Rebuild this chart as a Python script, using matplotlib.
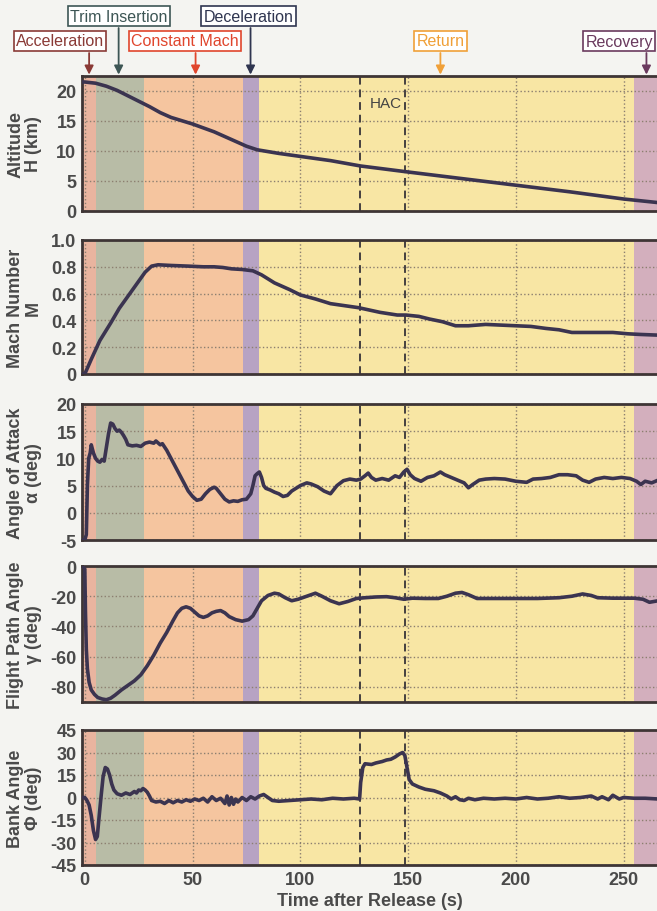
import matplotlib
matplotlib.use("Agg")
import matplotlib.pyplot as plt

plt.rcParams['font.family'] = ['Liberation Sans', 'DejaVu Sans']

# ---- data ----
# flight phases (start, end) in s after release
PHASES = ['Acceleration', 'Trim Insertion', 'Constant Mach', 'Deceleration', 'Return', 'Recovery']
PHASE_START = [-2, 5, 27.3, 73.6, 80.6, 255]
PHASE_END = [5, 27.3, 73.6, 80.6, 255, 270]
PHASE_COLORS = ['#e9b49f', '#b8bca6', '#f5c59f', '#b7a3c3', '#f8e6a4', '#d3afbd']
PHASE_TEXT = ['#8a3a36', '#3d5655', '#e0452c', '#2f3550', '#f0a038', '#6a3a5e']
ARROW_T = [2, 15.7, 51.4, 76.9, 165, 260.6]
BOX_T = [-11.5, 15.7, 46.5, 76, 165, 248]
BOX_ROW = [1, 0, 1, 0, 1, 1]

HAC_T = [127.8, 148.8]

alt_t = [-1, 0, 5, 10, 15, 20, 25, 30, 35, 40, 50, 60, 70, 75, 80, 90, 100, 114,
         128, 150, 175, 200, 225, 250, 266]
alt = [21.5, 21.5, 21.3, 20.8, 20.1, 19.2, 18.3, 17.4, 16.4, 15.6, 14.5, 13.2, 11.6,
       10.8, 10.2, 9.6, 9.1, 8.4, 7.5, 6.5, 5.4, 4.3, 3.2, 2.0, 1.4]

mach_t = [-1, 0, 3, 7, 12, 16, 20, 24, 28, 31, 34, 40, 48, 55, 60, 64, 68, 73, 78,
          82, 88, 95, 100, 107, 114, 127, 137, 145, 149, 155, 160, 166, 172, 178,
          186, 193, 200, 207, 214, 220, 226, 235, 245, 252, 258, 266]
mach = [0, 0, 0.11, 0.25, 0.38, 0.49, 0.58, 0.67, 0.76, 0.805, 0.815, 0.81, 0.805,
        0.80, 0.80, 0.795, 0.785, 0.78, 0.77, 0.74, 0.68, 0.63, 0.59, 0.56, 0.525,
        0.495, 0.46, 0.44, 0.44, 0.43, 0.41, 0.39, 0.36, 0.36, 0.37, 0.365, 0.36,
        0.355, 0.34, 0.33, 0.31, 0.31, 0.31, 0.30, 0.295, 0.29]

alpha_t = [-1, 0, 0.7, 1.2, 1.8, 2.5, 3, 4, 5, 6, 7, 8, 9, 10, 11, 12, 13, 14, 15,
           16, 17, 18, 19, 20, 22, 24, 26, 28, 30, 32, 33, 35, 36, 38, 40, 42, 44,
           46, 48, 50, 52, 54, 56, 58, 60, 61, 63, 65, 67, 69, 71, 73, 75, 77, 78,
           79, 80, 81, 82, 83, 84, 86, 88, 90, 92, 94, 96, 98, 100, 103, 105, 108,
           111, 114, 117, 120, 123, 126, 128, 130, 131.5, 133, 135, 138, 141, 144,
           146, 148, 149.5, 151, 153, 156, 159, 162, 165, 167, 170, 173, 176, 178,
           180, 183, 186, 190, 195, 200, 205, 208, 212, 216, 220, 224, 228, 231,
           234, 237, 241, 245, 249, 253, 256, 258, 260, 263, 266]
alpha = [-5, -5, -4, 5, 10, 11, 12.5, 11, 10, 9.5, 9.3, 9.8, 9.5, 12, 14.5, 16.5,
         16.3, 15.5, 15, 15.2, 14.8, 14.2, 13.5, 12.5, 12.3, 12.4, 12.2, 12.8, 13.0,
         12.8, 13.2, 12.5, 12.7, 11.5, 10, 8.5, 7, 5.5, 4, 3, 2.3, 2.5, 3.5, 4.3,
         4.7, 4.5, 3.5, 2.5, 2, 2.2, 2.1, 2.4, 2.5, 3.5, 5, 6.8, 7.2, 7.5, 6.5, 5,
         4.5, 4.2, 3.8, 3.5, 3, 3.2, 4, 4.5, 5, 5.5, 5.3, 4.8, 4, 3.5, 5, 5.9, 6.2,
         6.0, 6.2, 6.8, 7.3, 6.5, 6.0, 6.3, 6.0, 6.8, 6.5, 7.5, 8.0, 7.0, 6.3, 5.8,
         6.5, 6.8, 7.5, 7.0, 6.5, 6.0, 5.5, 4.6, 5.2, 6.0, 6.2, 6.3, 6.2, 5.8, 5.6,
         6.2, 6.3, 6.5, 7.0, 7.0, 6.8, 6.0, 5.6, 6.2, 6.5, 6.3, 6.5, 6.3, 5.8, 5.2,
         5.8, 5.5, 6.0]

gamma_t = [-1, 0, 0.3, 0.7, 1.2, 2, 3, 4.5, 6, 8, 10, 12, 14, 17, 20, 23, 26, 29,
           32, 35, 38, 41, 43, 45, 47, 49, 51, 53, 55, 57, 59, 61, 63, 65, 67, 70,
           73, 76, 78, 80, 82, 85, 88, 90, 93, 96, 99, 103, 107, 110, 114, 118, 122,
           126, 130, 135, 140, 144, 148, 152, 158, 164, 168, 172, 175, 178, 182, 190,
           200, 210, 220, 226, 231, 235, 238, 245, 255, 259, 262, 266]
gamma = [0, -2, -30, -55, -68, -77, -82, -85, -87, -88, -88.5, -87.5, -85.5, -82,
         -79, -76, -72, -66, -59, -51, -44, -36, -31, -28, -27, -28, -30.5, -33, -34,
         -33, -31, -30, -29.5, -31, -33.5, -35.5, -36.5, -35.5, -33, -28, -23, -19.5,
         -18, -18.5, -21, -23, -22, -20, -18, -20, -23, -25, -23.5, -21.5, -21, -20.5,
         -20.3, -21, -22, -21.3, -21.5, -21.5, -20, -18, -17.5, -19, -21.5, -21.5,
         -21.5, -21.5, -21, -20, -18.5, -19.5, -21, -21.3, -21.3, -22, -24, -23]

bank_t = [-1, 0, 1, 2, 3, 4, 5, 5.8, 6.5, 7.5, 8.5, 9.5, 10.5, 11.5, 12.5, 13.5, 15,
          17, 19, 21, 23, 24, 25, 26, 27, 28, 29, 30, 31, 33, 35, 37, 39, 41, 43,
          45, 47, 49, 51, 53, 55, 57, 59, 61, 63, 65, 66, 67, 68, 69, 70, 71, 73,
          75, 77, 79, 81, 83, 85, 87, 90, 95, 100, 105, 110, 115, 120, 125, 127.5,
          128, 129, 130, 133, 135, 138, 140, 142, 144, 146, 147.5, 148.5, 149.5,
          150.5, 152, 155, 158, 162, 165, 168, 170, 172, 174, 176, 178, 181, 185,
          190, 195, 200, 205, 210, 215, 220, 225, 230, 235, 238, 240, 243, 245, 248,
          250, 255, 260, 266]
bank = [0, 0, -2, -5, -12, -22, -28, -26, -15, 0, 14, 20, 19, 15, 9, 5, 2.5, 1.5, 3,
        2, 4, 3, 5, 4.5, 6, 5, 3.5, 1, -2, -3, -2.5, -4, -2, -3.5, -2, -3, -1.5,
        -2.5, -1, -2, -0.5, -3, 0.5, -2, -0.5, -4, 1, -5, 0, -4.5, -1, -3, 0, -2,
        0.5, -1, 1, 2, 0, -2, -2.5, -2, -1.5, -1, -1.5, -0.5, -1, -0.5, -1, 10, 20,
        22.5, 22, 23, 24, 25, 25.5, 27, 29, 30, 28, 20, 12, 9, 7, 5.5, 4.5, 3, 1, -1,
        0.5, -1.5, -2, -0.5, -1.5, -0.5, -1, -0.5, -1, 0, -1, -0.5, 0.5, -0.5, 0, 1,
        -1, 0.5, -1.5, 1.5, -1, 0, -0.5, -0.5, -1]

SERIES = [(alt_t, alt), (mach_t, mach), (alpha_t, alpha), (gamma_t, gamma), (bank_t, bank)]
YLABELS = ['Altitude\nH (km)', 'Mach Number\nM', 'Angle of Attack\n\u03b1 (deg)',
           'Flight Path Angle\n\u03b3 (deg)', 'Bank Angle\n\u03a6 (deg)']
YLIMS = [(0, 22.5), (0, 1.0), (-5, 20), (-90, 0), (-45, 45)]
YTICKS = [[0, 5, 10, 15, 20], [0, 0.2, 0.4, 0.6, 0.8, 1.0], [-5, 0, 5, 10, 15, 20],
          [-80, -60, -40, -20, 0], [-45, -30, -15, 0, 15, 30, 45]]
YTICKLABELS = [['0', '5', '10', '15', '20'], ['0', '0.2', '0.4', '0.6', '0.8', '1.0'],
               ['-5', '0', '5', '10', '15', '20'], ['-80', '-60', '-40', '-20', '0'],
               ['-45', '-30', '-15', '0', '15', '30', '45']]
XTICKS = [0, 50, 100, 150, 200, 250]

# panel rectangles (pixels from top of the 657x912 picture)
W, H = 657, 912
PANEL_TOP = [77, 241, 405, 567, 731]
PANEL_BOT = [212, 375, 541, 703, 866]
LEFT = 82

TXT = '#4a4a4a'
LINE = '#3b3450'

fig = plt.figure(figsize=(W / 100, H / 100), dpi=100, facecolor='#f4f4f1')

axes = []
for i in range(5):
    ax = fig.add_axes([LEFT / W, 1 - PANEL_BOT[i] / H, 1 - LEFT / W,
                       (PANEL_BOT[i] - PANEL_TOP[i]) / H])
    for s, e, c in zip(PHASE_START, PHASE_END, PHASE_COLORS):
        ax.axvspan(s, e, color=c, lw=0, zorder=0)
    ax.grid(True, ls=':', lw=1.0, color='#8c7f70', zorder=1)
    for h in HAC_T:
        ax.axvline(h, ls='--', lw=1.4, color='#454040', dashes=(4, 2.5), zorder=2)
    ax.plot(SERIES[i][0], SERIES[i][1], color=LINE, lw=2.6, zorder=3,
            solid_joinstyle='round')
    ax.set_xlim(-1.3, 265.5)
    ax.set_ylim(*YLIMS[i])
    ax.set_yticks(YTICKS[i])
    ax.set_yticklabels(YTICKLABELS[i])
    ax.set_xticks(XTICKS)
    if i < 4:
        ax.set_xticklabels([])
    ax.tick_params(length=0, labelsize=13, labelcolor=TXT, pad=4)
    for lab in ax.get_xticklabels() + ax.get_yticklabels():
        lab.set_fontweight('bold')
    ax.set_ylabel(YLABELS[i], fontsize=13, color=TXT, fontweight='bold',
                  linespacing=1.05)
    ax.yaxis.set_label_coords(-0.07, 0.5)
    for side in ['top', 'bottom', 'left']:
        ax.spines[side].set_color('#3e3535')
        ax.spines[side].set_linewidth(2)
    ax.spines['right'].set_visible(False)
    axes.append(ax)

axes[-1].set_xlabel('Time after Release (s)', fontsize=13, color=TXT,
                    fontweight='bold', labelpad=3)
axes[0].text(sum(HAC_T) / 2 + 1.5, 18, 'HAC', fontsize=11, color='#444444',
             ha='center', va='center', zorder=4)

# phase call-outs above the top panel
ROW_Y = [1 - 17 / H, 1 - 42 / H]
for name, at, bt, row, tc in zip(PHASES, ARROW_T, BOX_T, BOX_ROW, PHASE_TEXT):
    axes[0].annotate(name, xy=(bt, ROW_Y[row]), xycoords=('data', 'figure fraction'),
                     ha='center', va='center', fontsize=11.5, color=tc,
                     annotation_clip=False,
                     bbox=dict(boxstyle='square,pad=0.15', fc='white', ec=tc, lw=1.2))
    y0 = ROW_Y[row] - 12 / H
    axes[0].annotate('', xy=(at, 1.0), xycoords=('data', 'axes fraction'),
                     xytext=(at, y0), textcoords=('data', 'figure fraction'),
                     annotation_clip=False,
                     arrowprops=dict(arrowstyle='-|>', color=tc, lw=1.3,
                                     mutation_scale=13, shrinkA=0, shrinkB=1))

fig.savefig('out.png', dpi=100, facecolor=fig.get_facecolor())
